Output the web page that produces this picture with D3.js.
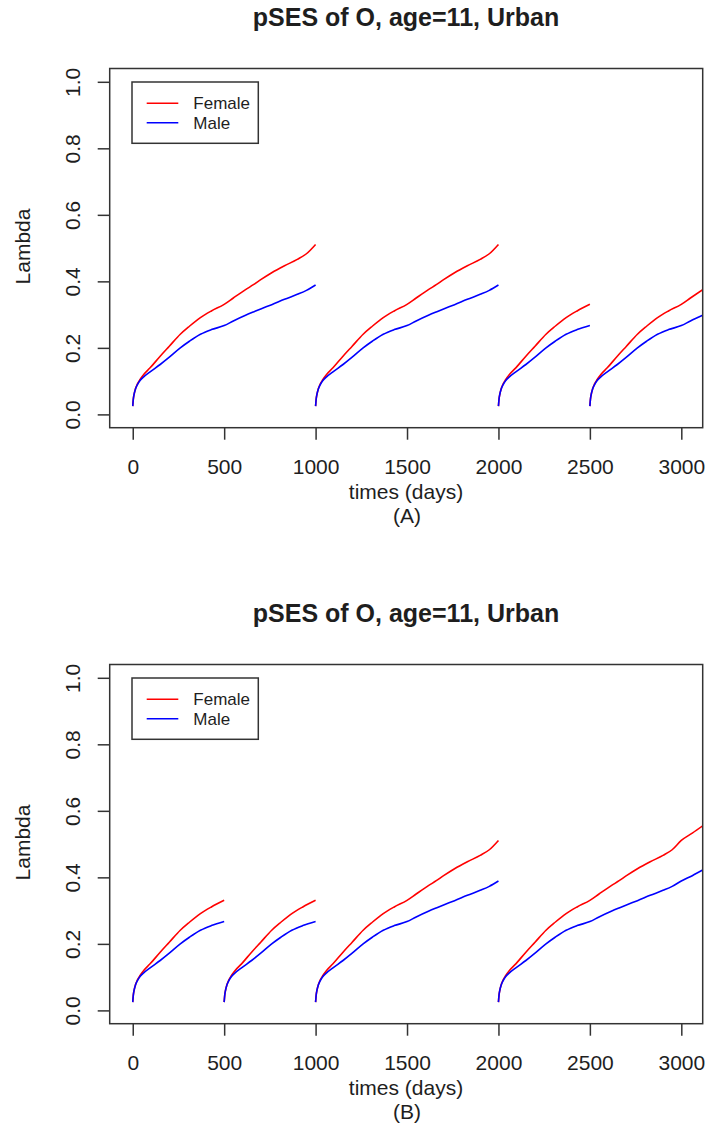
<!DOCTYPE html>
<html>
<head>
<meta charset="utf-8">
<script src="https://cdn.jsdelivr.net/npm/d3@7"></script>
<style>
  body { margin: 0; background: #fff; }
  text { font-family: "Liberation Sans", Arial, sans-serif; fill: #1e1e1e; }
</style>
</head>
<body>
<svg width="709" height="1132"></svg>
<script>
// base cumulative hazard curve (days since restart)
const baseDays   = [0, 3, 8, 15, 25, 40, 60, 95, 150, 200, 260, 310, 370, 430, 500, 550, 617, 660, 700, 760, 830, 900, 950, 1000, 1060, 1117]
const femaleLam  = [0.025, 0.045, 0.062, 0.077, 0.091, 0.105, 0.12, 0.14, 0.175, 0.205, 0.241, 0.265, 0.291, 0.311, 0.331, 0.35, 0.375, 0.39, 0.405, 0.426, 0.447, 0.466, 0.483, 0.511, 0.533, 0.555]
const maleLam    = [0.025, 0.045, 0.062, 0.076, 0.089, 0.102, 0.113, 0.128, 0.15, 0.172, 0.2, 0.22, 0.241, 0.255, 0.267, 0.281, 0.298, 0.308, 0.317, 0.33, 0.346, 0.361, 0.373, 0.389, 0.405, 0.422]

// restart points of each panel
const startsA = [0, 1000, 2000, 2500]
const endsA   = [1000, 2000, 2500, 3117]
const startsB = [0, 500, 1000, 2000]
const endsB   = [500, 1000, 2000, 3117]

const xTicks = [0, 500, 1000, 1500, 2000, 2500, 3000]
const yTicks = [0, 0.2, 0.4, 0.6, 0.8, 1.0]
const seriesNames = ["Female", "Male"]
const seriesColors = ["#ff0000", "#0000ff"]

const title = "pSES of O, age=11, Urban"
const panels = [
  {label: "(A)", starts: startsA, ends: endsA, dy: 0},
  {label: "(B)", starts: startsB, ends: endsB, dy: 596}
]

const svg = d3.select("svg")
const box = {left: 109.7, right: 702.7, top: 68.5, bottom: 427.7}

const x = d3.scaleLinear().domain([-126, 3117]).range([box.left, box.right])
const y = d3.scaleLinear().domain([-0.04, 1.04]).range([box.bottom, box.top])

const line = d3.line().x(d => x(d[0])).y(d => y(d[1])).curve(d3.curveMonotoneX)

svg.append("defs").append("clipPath").attr("id", "plotclip")
  .append("rect")
  .attr("x", box.left).attr("y", box.top)
  .attr("width", box.right - box.left).attr("height", box.bottom - box.top)

panels.forEach(p => {
  const g = svg.append("g").attr("transform", `translate(0,${p.dy})`)

  // curves
  const lines = g.append("g").attr("clip-path", "url(#plotclip)")
  const vals = [femaleLam, maleLam]
  p.starts.forEach((s, i) => {
    const span = p.ends[i] - s
    vals.forEach((v, k) => {
      const pts = baseDays.map((t, j) => [t, v[j]])
        .filter(d => d[0] <= span)
        .map(d => [d[0] + s, d[1]])
      lines.append("path")
        .attr("d", line(pts))
        .attr("fill", "none")
        .attr("stroke", seriesColors[k])
        .attr("stroke-width", 1.6)
    })
  })

  // box
  g.append("rect")
    .attr("x", box.left).attr("y", box.top)
    .attr("width", box.right - box.left).attr("height", box.bottom - box.top)
    .attr("fill", "none").attr("stroke", "#333").attr("stroke-width", 1.5)

  // x axis
  const gx = g.append("g")
    .attr("transform", `translate(0,${box.bottom})`)
    .call(d3.axisBottom(x).tickValues(xTicks).tickFormat(d3.format("d"))
      .tickSize(12).tickSizeOuter(0).tickPadding(19.4))
  gx.select(".domain").remove()
  gx.selectAll(".tick line").attr("stroke", "#333").attr("stroke-width", 1.5)
  gx.selectAll(".tick text").style("font-size", "21px").attr("fill", "#1e1e1e")

  // y axis
  const gy = g.append("g")
    .attr("transform", `translate(${box.left},0)`)
    .call(d3.axisLeft(y).tickValues(yTicks).tickSize(12).tickSizeOuter(0).tickFormat(d3.format(".1f")))
  gy.select(".domain").remove()
  gy.selectAll(".tick line").attr("stroke", "#333").attr("stroke-width", 1.5)
  gy.selectAll(".tick text")
    .attr("x", null).attr("dy", null)
    .attr("text-anchor", "middle")
    .attr("transform", "translate(-29.7,0) rotate(-90)")
    .style("font-size", "21px").attr("fill", "#1e1e1e")

  // labels
  g.append("text")
    .attr("x", 406).attr("y", 26)
    .attr("text-anchor", "middle")
    .style("font-size", "25px").style("font-weight", "bold")
    .text(title)
  g.append("text")
    .attr("x", 406).attr("y", 499)
    .attr("text-anchor", "middle")
    .style("font-size", "21px")
    .text("times (days)")
  g.append("text")
    .attr("x", 407).attr("y", 523)
    .attr("text-anchor", "middle")
    .style("font-size", "21px")
    .text(p.label)
  g.append("text")
    .attr("transform", "translate(30,246.5) rotate(-90)")
    .attr("text-anchor", "middle")
    .style("font-size", "21px")
    .text("Lambda")

  // legend
  const lg = g.append("g")
  lg.append("rect")
    .attr("x", 132).attr("y", 82).attr("width", 126.3).attr("height", 61.3)
    .attr("fill", "#fff").attr("stroke", "#333").attr("stroke-width", 1.5)
  seriesNames.forEach((name, i) => {
    const ly = 103.3 + i * 19.4
    lg.append("line")
      .attr("x1", 146.7).attr("x2", 178.3).attr("y1", ly).attr("y2", ly)
      .attr("stroke", seriesColors[i]).attr("stroke-width", 1.6)
    lg.append("text")
      .attr("x", 193.3).attr("y", ly).attr("dy", "0.35em")
      .style("font-size", "17px")
      .text(name)
  })
})
</script>
</body>
</html>
